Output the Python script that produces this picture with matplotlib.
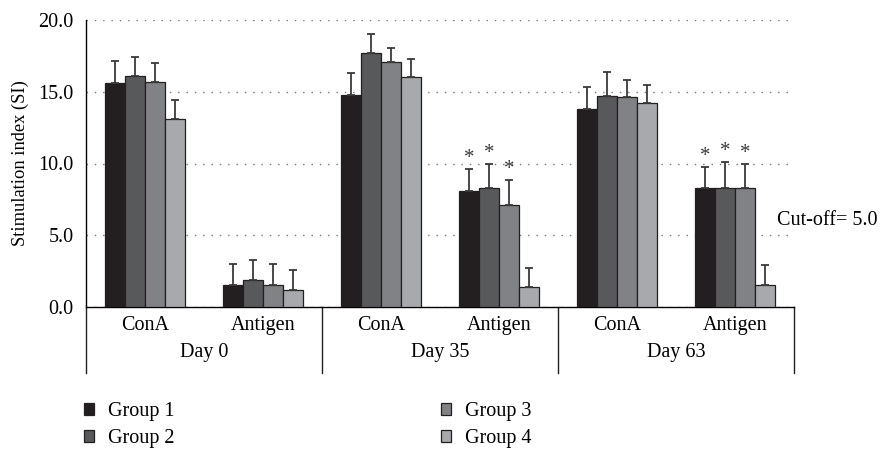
import matplotlib

matplotlib.use("Agg")
import matplotlib.pyplot as plt
import numpy as np

plt.rcParams["font.family"] = ["Liberation Serif", "DejaVu Serif"]

days = ["Day 0", "Day 35", "Day 63"]
stimuli = ["ConA", "Antigen"]
groups = ["Group 1", "Group 2", "Group 3", "Group 4"]
colors = ["#231f20", "#58595b", "#808285", "#a7a9ac"]

# one row per group, columns: D0 ConA, D0 Ag, D35 ConA, D35 Ag, D63 ConA, D63 Ag
means = [
    [15.6, 1.5, 14.8, 8.1, 13.8, 8.3],
    [16.1, 1.9, 17.7, 8.3, 14.7, 8.3],
    [15.7, 1.5, 17.1, 7.1, 14.6, 8.3],
    [13.1, 1.2, 16.0, 1.4, 14.2, 1.5],
]
errors = [
    [1.55, 1.5, 1.5, 1.5, 1.5, 1.45],
    [1.35, 1.4, 1.3, 1.65, 1.7, 1.8],
    [1.3, 1.5, 0.95, 1.75, 1.25, 1.65],
    [1.35, 1.35, 1.3, 1.35, 1.3, 1.4],
]
# significance markers (True = asterisk over bar)
signif = [
    [False, False, False, True, False, True],
    [False, False, False, True, False, True],
    [False, False, False, True, False, True],
    [False, False, False, False, False, False],
]
cutoff_label = "Cut-off= 5.0"

FS = 14.5

fig = plt.figure(figsize=(8.82, 4.5), dpi=100)
ax = fig.add_axes([86 / 882, 1 - 307 / 450, 708 / 882, 287 / 450])

n_cat = len(days) * len(stimuli)
x = np.arange(n_cat)
width = 0.17
for i, g in enumerate(groups):
    pos = x + (i - 1.5) * width
    ax.bar(pos, means[i], width, color=colors[i], edgecolor="#231f20",
           linewidth=0.9, label=g, zorder=3)
    ax.errorbar(pos, means[i], yerr=[np.zeros(n_cat), errors[i]], fmt="none",
                ecolor="#3a3a3a", elinewidth=1.3, capsize=3, capthick=1.3, zorder=4)
    for j in range(n_cat):
        if signif[i][j]:
            ax.text(pos[j], means[i][j] + errors[i][j] + 0.1, "*", ha="center",
                    va="bottom", fontsize=15, color="#3a3a3a", zorder=5)

ax.set_xlim(-0.5, n_cat - 0.5)
ax.set_ylim(0, 20)
ax.set_yticks([0, 5, 10, 15, 20])
ax.set_yticklabels([f"{v:.1f}" for v in [0, 5, 10, 15, 20]], fontsize=FS)
ax.tick_params(axis="y", length=0, pad=9)
ax.set_xticks([])
ax.yaxis.grid(True, linestyle=(0, (1, 5)), color="#777777", linewidth=1.0, zorder=0)
ax.set_axisbelow(True)
for s in ["top", "right"]:
    ax.spines[s].set_visible(False)
ax.spines["left"].set_linewidth(1.0)
ax.spines["bottom"].set_linewidth(1.0)
ax.set_ylabel("Stimulation index (SI)", fontsize=13.3, labelpad=7)

# category labels below the axis
tr = ax.get_xaxis_transform()
for j in range(n_cat):
    ax.text(x[j], -0.066, stimuli[j % len(stimuli)], transform=tr, ha="center",
            va="center", fontsize=FS)
for d, day in enumerate(days):
    centre = d * len(stimuli) + (len(stimuli) - 1) / 2
    ax.text(centre, -0.16, day, transform=tr, ha="center", va="center", fontsize=FS)
for d in range(len(days) + 1):
    edge = d * len(stimuli) - 0.5
    ax.plot([edge, edge], [0, -0.23], transform=tr, color="#231f20",
            linewidth=1.0, clip_on=False)

fig.text(777 / 882, 1 - 220 / 450, cutoff_label, ha="left", va="center", fontsize=FS)

fig.legend(loc="upper left", bbox_to_anchor=(84 / 882, 1 - 402 / 450), ncol=2,
           frameon=False, fontsize=FS, handlelength=0.5, handleheight=0.5,
           handletextpad=0.7, columnspacing=13.2, labelspacing=0.4, borderpad=0,
           borderaxespad=0)

fig.savefig("out.png", dpi=100)
